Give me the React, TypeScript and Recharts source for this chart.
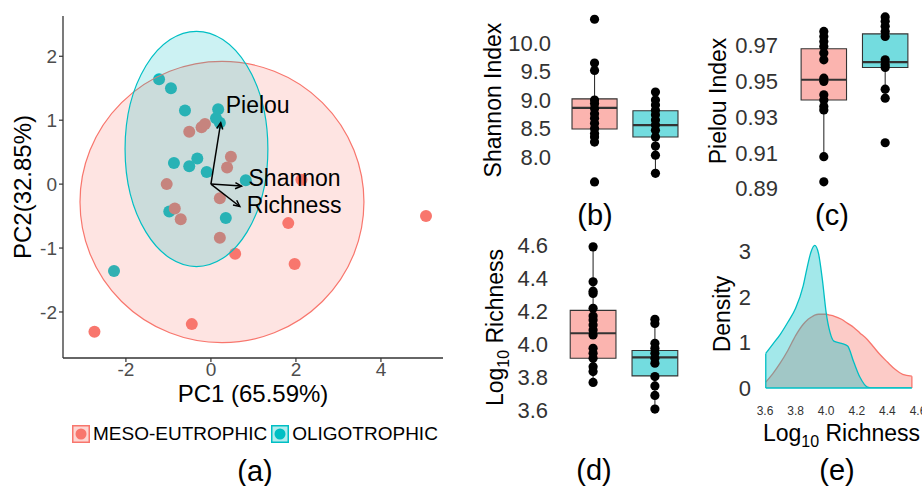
import React from 'react';
import {
  ScatterChart, Scatter, AreaChart, Area, XAxis, YAxis, ReferenceArea, ReferenceLine,
} from 'recharts';

const FONT = '"Liberation Sans", Arial, Helvetica, sans-serif';
const RED = '#F8766D';
const TEAL = '#00BFC4';
const INK = '#333333';

const groups = ['MESO-EUTROPHIC', 'OLIGOTROPHIC'];
const groupColors = [RED, TEAL];

// (a) PCA scores
const mesoPC1 = [-0.51, -0.22, -0.14, 0.47, 0.38, -1.04, 0.21, -0.85, -0.71, 0.21, 0.57, 2.13, 1.82, 1.97, 5.06, -0.45, -2.74];
const mesoPC2 = [0.82, 0.89, 0.94, 0.43, 0.26, 0.0, -0.22, -0.38, -0.55, -0.84, -1.09, 0.07, -0.61, -1.25, -0.5, -2.19, -2.31];
const oligoPC1 = [-1.22, -0.94, -0.61, 0.17, 0.12, 0.21, -0.87, -0.51, -0.32, -0.1, 0.82, -0.98, 0.35, -2.28];
const oligoPC2 = [1.64, 1.5, 1.15, 1.17, 1.03, 0.96, 0.33, 0.28, 0.4, 0.19, 0.06, -0.43, -0.53, -1.36];

// confidence ellipses (meso, oligo): centre and half axes
const ellipseX = [0.26, -0.34];
const ellipseY = [-0.28, 0.55];
const ellipseRx = [3.34, 1.68];
const ellipseRy = [2.2, 1.84];

// loading arrows
const loadingNames = ['Pielou', 'Shannon', 'Richness'];
const loadingPC1 = [0.23, 0.72, 0.68];
const loadingPC2 = [0.96, -0.03, -0.35];
const loadingLabelDx = [5, 7, 7];
const loadingLabelDy = [-18, -8, -2];

const pc1Ticks = [-2, 0, 2, 4];
const pc2Ticks = [-2, -1, 0, 1, 2];

// (b) Shannon index
const shannonMeso = [10.42, 9.65, 9.52, 9.0, 8.94, 8.85, 8.76, 8.68, 8.59, 8.5, 8.41, 8.35, 8.26, 7.56];
const shannonOligo = [9.14, 9.0, 8.91, 8.82, 8.74, 8.65, 8.56, 8.47, 8.35, 8.19, 8.03, 7.71];
const shannonQ1 = [8.49, 8.35];
const shannonMedian = [8.86, 8.56];
const shannonQ3 = [9.02, 8.81];
const shannonLow = [8.26, 7.71];
const shannonHigh = [9.65, 9.14];
const shannonTicks = [8, 8.5, 9, 9.5, 10];

// (c) Pielou index
const pielouMeso = [0.978, 0.9752, 0.9724, 0.9696, 0.9659, 0.9621, 0.9518, 0.95, 0.9425, 0.9396, 0.9359, 0.934, 0.9078, 0.8937];
const pielouOligo = [0.9861, 0.9837, 0.9809, 0.978, 0.9752, 0.9621, 0.9593, 0.9578, 0.9456, 0.9406, 0.9156];
const pielouQ1 = [0.9396, 0.9578];
const pielouMedian = [0.9509, 0.9608];
const pielouQ3 = [0.9683, 0.9766];
const pielouLow = [0.9078, 0.9406];
const pielouHigh = [0.978, 0.9861];
const pielouTicks = [0.89, 0.91, 0.93, 0.95, 0.97];

// (d) log10 richness
const richMeso = [4.59, 4.378, 4.321, 4.307, 4.217, 4.17, 4.146, 4.115, 4.085, 4.055, 3.974, 3.943, 3.913, 3.862, 3.832, 3.766];
const richOligo = [4.15, 4.125, 4.004, 3.974, 3.943, 3.913, 3.883, 3.802, 3.745, 3.687, 3.604];
const richQ1 = [3.913, 3.806];
const richMedian = [4.065, 3.919];
const richQ3 = [4.204, 3.96];
const richLow = [3.766, 3.604];
const richHigh = [4.59, 4.146];
const richTicks = [3.6, 3.8, 4.0, 4.2, 4.4, 4.6];

// (e) density of log10 richness
const densityX = [3.605, 3.65, 3.7, 3.75, 3.8, 3.85, 3.875, 3.9, 3.925, 3.95, 3.975, 4.0, 4.025, 4.05, 4.1, 4.14, 4.18, 4.22, 4.27, 4.31, 4.35, 4.4, 4.45, 4.5, 4.56];
const densityMeso = [0.13, 0.31, 0.55, 0.83, 1.15, 1.4, 1.49, 1.55, 1.6, 1.62, 1.62, 1.62, 1.6, 1.58, 1.51, 1.42, 1.33, 1.21, 1.06, 0.9, 0.74, 0.57, 0.41, 0.3, 0.26];
const densityOligo = [0.76, 0.96, 1.18, 1.45, 1.75, 2.25, 2.64, 2.98, 3.13, 2.95, 2.38, 1.65, 1.22, 1.03, 0.98, 0.92, 0.57, 0.24, 0.02, 0, 0, 0, 0, 0, 0];
const densityXTicks = [3.6, 3.8, 4.0, 4.2, 4.4, 4.6];
const densityYTicks = [0, 1, 2, 3];

const dot = (r: number, color: string) => (p: any) => (
  <circle cx={p.cx} cy={p.cy} r={r} fill={color} />
);

const yTitle = (content: React.ReactNode, dx: number, fs = 23) => (props: any) => {
  const vb = props.viewBox || { x: 0, y: 0, width: 0, height: 0 };
  const cx = vb.x + dx;
  const cy = vb.y + vb.height / 2;
  return (
    <text x={cx} y={cy} dy="0.35em" transform={`rotate(-90 ${cx} ${cy})`} textAnchor="middle"
      fontSize={fs} fontFamily={FONT} fill="#000">{content}</text>
  );
};

const xTitle = (content: React.ReactNode, dy: number, fs = 23) => (props: any) => {
  const vb = props.viewBox || { x: 0, y: 0, width: 0, height: 0 };
  return (
    <text x={vb.x + vb.width / 2} y={vb.y + dy} textAnchor="middle" fontSize={fs} fontFamily={FONT} fill="#000">
      {content}
    </text>
  );
};

const log10Richness = (
  <>Log<tspan fontSize={16} dy={6}>10</tspan><tspan dy={-6}> Richness</tspan></>
);

const ellipseShape = (color: string) => (p: any) => (
  <ellipse cx={p.x + p.width / 2} cy={p.y + p.height / 2} rx={Math.abs(p.width) / 2} ry={Math.abs(p.height) / 2}
    fill={color} fillOpacity={0.2} stroke={color} strokeWidth={1.2} />
);

const arrowShape = (i: number) => (p: any) => {
  const { x1, y1, x2, y2 } = p;
  const ang = Math.atan2(y2 - y1, x2 - x1);
  const h = 7;
  const a1 = ang + Math.PI - 0.45;
  const a2 = ang + Math.PI + 0.45;
  return (
    <g>
      <line x1={x1} y1={y1} x2={x2} y2={y2} stroke="#000" strokeWidth={1.5} />
      <polyline
        points={`${x2 + h * Math.cos(a1)},${y2 + h * Math.sin(a1)} ${x2},${y2} ${x2 + h * Math.cos(a2)},${y2 + h * Math.sin(a2)}`}
        fill="none" stroke="#000" strokeWidth={1.5} />
      <text x={x2 + loadingLabelDx[i]} y={y2 + loadingLabelDy[i]} dy="0.35em" fontSize={23} fontFamily={FONT} fill="#000">
        {loadingNames[i]}
      </text>
    </g>
  );
};

const PcaPanel = () => {
  const meso = mesoPC1.map((x, i) => ({ x, y: mesoPC2[i] }));
  const oligo = oligoPC1.map((x, i) => ({ x, y: oligoPC2[i] }));
  const axisTick = { fill: '#4D4D4D', fontSize: 19, fontFamily: FONT };
  return (
    <div style={{ position: 'absolute', left: 0, top: 0 }}>
      <ScatterChart width={460} height={410} margin={{ top: 16, right: 17, bottom: 0, left: 0 }}>
        <XAxis type="number" dataKey="x" domain={[-3.48, 5.46]} ticks={pc1Ticks} interval={0} allowDataOverflow
          height={52} tickSize={4} tickMargin={1} tick={axisTick}
          axisLine={{ stroke: INK, strokeWidth: 1.3 }} tickLine={{ stroke: INK, strokeWidth: 1.2 }}
          label={xTitle('PC1 (65.59%)', 44, 24)} />
        <YAxis type="number" dataKey="y" domain={[-2.72, 2.63]} ticks={pc2Ticks} interval={0} allowDataOverflow
          width={63} tickSize={4} tickMargin={2} tick={axisTick}
          axisLine={{ stroke: INK, strokeWidth: 1.3 }} tickLine={{ stroke: INK, strokeWidth: 1.2 }}
          label={yTitle('PC2(32.85%)', 23, 24)} />
        <Scatter data={oligo} shape={dot(6, TEAL)} isAnimationActive={false} />
        <Scatter data={meso} shape={dot(6, RED)} isAnimationActive={false} />
        {groups.map((g, i) => (
          <ReferenceArea key={g} x1={ellipseX[i] - ellipseRx[i]} x2={ellipseX[i] + ellipseRx[i]}
            y1={ellipseY[i] - ellipseRy[i]} y2={ellipseY[i] + ellipseRy[i]}
            ifOverflow="visible" zIndex={650} shape={ellipseShape(groupColors[i])} />
        ))}
        {loadingNames.map((n, i) => (
          <ReferenceLine key={n} segment={[{ x: 0, y: 0 }, { x: loadingPC1[i], y: loadingPC2[i] }]}
            ifOverflow="visible" zIndex={700} shape={arrowShape(i)} />
        ))}
      </ScatterChart>
    </div>
  );
};

type BoxProps = {
  left: number; top: number; width: number; height: number;
  margin: { top: number; right: number; bottom: number; left: number };
  yWidth: number; tickGap: number; titleDx: number; title: React.ReactNode;
  domain: [number, number]; ticks: number[]; digits: number;
  values: number[][]; q1: number[]; median: number[]; q3: number[]; low: number[]; high: number[];
};

const HALF = 0.37;

const BoxPanel = (p: BoxProps) => {
  const pts = p.values.map((vals, i) => vals.map((v) => ({ g: i + 1, v })));
  return (
    <div style={{ position: 'absolute', left: p.left, top: p.top }}>
      <ScatterChart width={p.width} height={p.height} margin={p.margin}>
        <XAxis type="number" dataKey="g" domain={[0.4, 2.6]} hide />
        <YAxis type="number" dataKey="v" domain={p.domain} ticks={p.ticks} interval={0} allowDataOverflow
          width={p.yWidth} axisLine={false} tickLine={false} tickSize={p.tickGap} tickMargin={2}
          tick={{ fill: INK, fontSize: 22, fontFamily: FONT }} tickFormatter={(v: number) => v.toFixed(p.digits)}
          label={yTitle(p.title, p.titleDx)} />
        {groups.map((g, i) => (
          <ReferenceLine key={'hi' + g} segment={[{ x: i + 1, y: p.q3[i] }, { x: i + 1, y: p.high[i] }]}
            stroke={INK} strokeWidth={1.1} ifOverflow="visible" />
        ))}
        {groups.map((g, i) => (
          <ReferenceLine key={'lo' + g} segment={[{ x: i + 1, y: p.low[i] }, { x: i + 1, y: p.q1[i] }]}
            stroke={INK} strokeWidth={1.1} ifOverflow="visible" />
        ))}
        {groups.map((g, i) => (
          <ReferenceArea key={'box' + g} x1={i + 1 - HALF} x2={i + 1 + HALF} y1={p.q1[i]} y2={p.q3[i]}
            fill={groupColors[i]} fillOpacity={0.55} stroke={INK} strokeWidth={1.1} ifOverflow="visible" />
        ))}
        {groups.map((g, i) => (
          <ReferenceLine key={'med' + g} segment={[{ x: i + 1 - HALF, y: p.median[i] }, { x: i + 1 + HALF, y: p.median[i] }]}
            stroke={INK} strokeWidth={2.2} ifOverflow="visible" />
        ))}
        {pts.map((d, i) => (
          <Scatter key={'pts' + i} data={d} shape={dot(4.6, '#000')} isAnimationActive={false} />
        ))}
      </ScatterChart>
    </div>
  );
};

const DensityPanel = () => {
  const data = densityX.map((x, i) => ({ x, meso: densityMeso[i], oligo: densityOligo[i] }));
  const last = densityX.length - 1;
  return (
    <div style={{ position: 'absolute', left: 700, top: 230 }}>
      <AreaChart width={222} height={226} data={data} margin={{ top: 10, right: 4, bottom: 0, left: 0 }}>
        <XAxis type="number" dataKey="x" domain={[3.6, 4.6]} ticks={densityXTicks} interval={0} allowDataOverflow
          height={68} axisLine={false} tickLine={false} tickSize={16} tickMargin={2}
          tick={{ fill: INK, fontSize: 12, fontFamily: FONT }} tickFormatter={(v: number) => v.toFixed(1)}
          label={xTitle(log10Richness, 53)} />
        <YAxis type="number" domain={[0, 3.25]} ticks={densityYTicks} interval={0} allowDataOverflow
          width={65} axisLine={false} tickLine={false} tickSize={12} tickMargin={2}
          tick={{ fill: INK, fontSize: 22, fontFamily: FONT }} label={yTitle('Density', 22)} />
        <Area type="monotone" dataKey="meso" stroke={RED} strokeWidth={1.3} fill={RED} fillOpacity={0.38}
          isAnimationActive={false} dot={false} activeDot={false} />
        <Area type="monotone" dataKey="oligo" stroke={TEAL} strokeWidth={1.3} fill={TEAL} fillOpacity={0.36}
          isAnimationActive={false} dot={false} activeDot={false} />
        <ReferenceLine segment={[{ x: densityX[last], y: 0 }, { x: densityX[last], y: densityMeso[last] }]}
          stroke={RED} strokeWidth={1.3} ifOverflow="visible" />
        <ReferenceLine segment={[{ x: densityX[0], y: 0 }, { x: densityX[0], y: densityOligo[0] }]}
          stroke={TEAL} strokeWidth={1.3} ifOverflow="visible" />
        <ReferenceLine segment={[{ x: densityX[0], y: 0 }, { x: densityX[last], y: 0 }]}
          stroke={TEAL} strokeWidth={1.3} ifOverflow="visible" />
      </AreaChart>
    </div>
  );
};

const LegendKey = ({ color }: { color: string }) => (
  <svg width={18} height={18} style={{ display: 'block' }}>
    <rect x={0.75} y={0.75} width={16.5} height={16.5} fill={color} fillOpacity={0.3} stroke={color} strokeWidth={1.5} />
    <circle cx={9} cy={9} r={5.5} fill={color} />
  </svg>
);

const PanelTag = ({ x, y, text }: { x: number; y: number; text: string }) => (
  <div style={{
    position: 'absolute', left: x, top: y, transform: 'translate(-50%, -50%)',
    fontSize: 29, lineHeight: 1, fontFamily: FONT, color: '#000',
  }}>{text}</div>
);

export default function App() {
  return (
    <div style={{ position: 'absolute', left: 0, top: 0, width: 922, height: 486, background: '#fff', overflow: 'hidden' }}>
      <PcaPanel />
      <div style={{
        position: 'absolute', left: 72, top: 423, display: 'flex', alignItems: 'center',
        fontSize: 19, fontFamily: FONT, color: '#000',
      }}>
        {groups.map((g, i) => (
          <div key={g} style={{ display: 'flex', alignItems: 'center', marginRight: 4 }}>
            <LegendKey color={groupColors[i]} />
            <span style={{ marginLeft: 3 }}>{g}</span>
          </div>
        ))}
      </div>
      <BoxPanel left={470} top={0} width={230} height={200} margin={{ top: 9, right: 8, bottom: 9, left: 0 }}
        yWidth={88} tickGap={5} titleDx={23} title="Shannon Index" domain={[7.4, 10.6]} ticks={shannonTicks} digits={1}
        values={[shannonMeso, shannonOligo]} q1={shannonQ1} median={shannonMedian} q3={shannonQ3} low={shannonLow} high={shannonHigh} />
      <BoxPanel left={700} top={0} width={222} height={200} margin={{ top: 10, right: 0, bottom: 8, left: 0 }}
        yWidth={87} tickGap={7} titleDx={18} title="Pielou Index" domain={[0.888, 0.99]} ticks={pielouTicks} digits={2}
        values={[pielouMeso, pielouOligo]} q1={pielouQ1} median={pielouMedian} q3={pielouQ3} low={pielouLow} high={pielouHigh} />
      <BoxPanel left={470} top={228} width={230} height={200} margin={{ top: 9, right: 8, bottom: 10, left: 0 }}
        yWidth={86} tickGap={6} titleDx={25} title={log10Richness} domain={[3.55, 4.65]} ticks={richTicks} digits={1}
        values={[richMeso, richOligo]} q1={richQ1} median={richMedian} q3={richQ3} low={richLow} high={richHigh} />
      <DensityPanel />
      <PanelTag x={255} y={471} text="(a)" />
      <PanelTag x={595} y={215} text="(b)" />
      <PanelTag x={832} y={215} text="(c)" />
      <PanelTag x={594} y={470} text="(d)" />
      <PanelTag x={837} y={470} text="(e)" />
    </div>
  );
}
